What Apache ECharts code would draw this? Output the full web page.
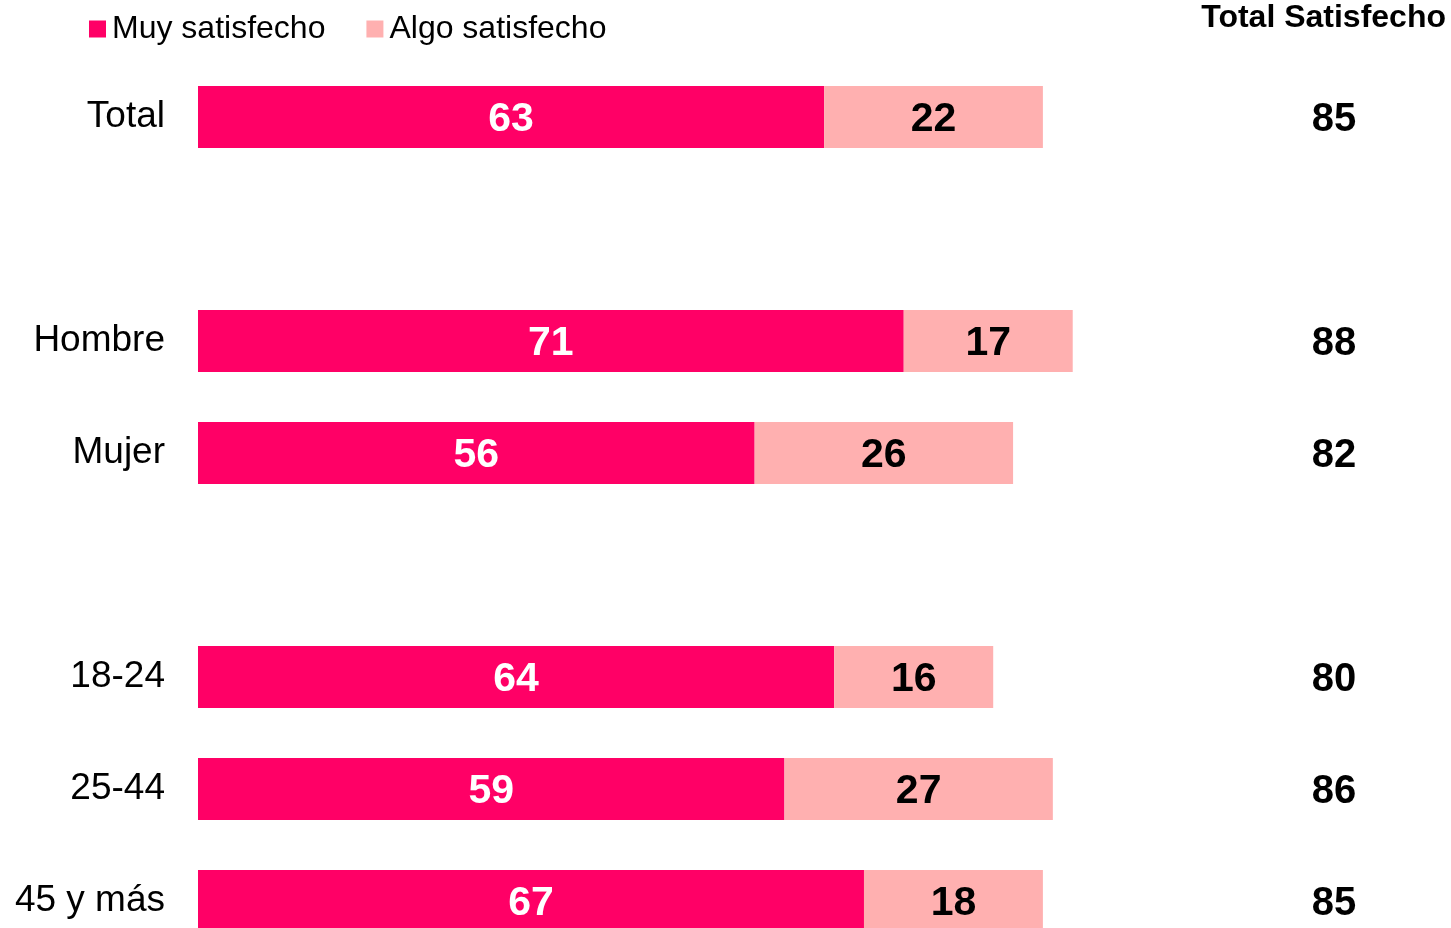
<!DOCTYPE html>
<html>
<head>
<meta charset="utf-8">
<script src="https://cdn.jsdelivr.net/npm/echarts@6/dist/echarts.min.js"></script>
<style>
html,body{margin:0;padding:0;background:#fff;}
#chart{width:1451px;height:928px;}
</style>
</head>
<body>
<div id="chart"></div>
<script>
// Data (empty strings / nulls are spacer rows between groups)
var categories = ['Total', '', 'Hombre', 'Mujer', '', '18-24', '25-44', '45 y más'];
var muySatisfecho = [63, null, 71, 56, null, 64, 59, 67];
var algoSatisfecho = [22, null, 17, 26, null, 16, 27, 18];
var totalSatisfecho = ['85', '', '88', '82', '', '80', '86', '85'];
var seriesNames = ['Muy satisfecho', 'Algo satisfecho'];
var totalHeader = 'Total Satisfecho';

var FONT = '"Liberation Sans", Arial, Helvetica, sans-serif';
var chart = echarts.init(document.getElementById('chart'), null, {renderer: 'canvas'});

chart.setOption({
  animation: false,
  textStyle: {fontFamily: FONT},
  title: {
    text: totalHeader,
    right: 0,
    top: -3,
    textStyle: {fontFamily: FONT, fontSize: 32, fontWeight: 'bold', color: '#000'}
  },
  legend: {
    left: 84,
    top: 8,
    itemWidth: 17,
    itemHeight: 17,
    itemGap: 41,
    icon: 'rect',
    data: seriesNames,
    textStyle: {fontFamily: FONT, fontSize: 32, color: '#000', padding: [0, 0, 0, 1]}
  },
  grid: {
    left: 198,
    top: 61,
    width: 994,
    height: 896,
    containLabel: false,
    outerBoundsMode: 'none'
  },
  xAxis: {
    type: 'value',
    min: 0,
    max: 100,
    show: false,
    splitLine: {show: false}
  },
  yAxis: [{
    type: 'category',
    data: categories,
    inverse: true,
    axisLine: {show: false},
    axisTick: {show: false},
    axisLabel: {
      margin: 33,
      fontFamily: FONT,
      fontSize: 37,
      color: '#000'
    }
  }, {
    type: 'category',
    data: categories,
    inverse: true,
    position: 'right',
    axisLine: {show: false},
    axisTick: {show: false},
    axisLabel: {
      margin: 142,
      align: 'center',
      formatter: function (v, i) {
        return totalSatisfecho[i] ? '{t|' + totalSatisfecho[i] + '}' : '';
      },
      rich: {
        t: {
          fontFamily: FONT,
          fontSize: 40,
          fontWeight: 'bold',
          color: '#000',
          padding: [6, 0, 0, 0]
        }
      }
    }
  }],
  series: [{
    name: seriesNames[0],
    type: 'bar',
    stack: 'sat',
    barWidth: 62,
    data: muySatisfecho,
    itemStyle: {color: '#FF0066'},
    label: {
      show: true,
      position: 'inside',
      offset: [0, 3],
      fontFamily: FONT,
      fontSize: 41,
      fontWeight: 'bold',
      color: '#fff'
    }
  }, {
    name: seriesNames[1],
    type: 'bar',
    stack: 'sat',
    barWidth: 62,
    data: algoSatisfecho,
    itemStyle: {color: '#FFB0B0'},
    label: {
      show: true,
      position: 'inside',
      offset: [0, 3],
      fontFamily: FONT,
      fontSize: 41,
      fontWeight: 'bold',
      color: '#000'
    }
  }]
});
</script>
</body>
</html>
